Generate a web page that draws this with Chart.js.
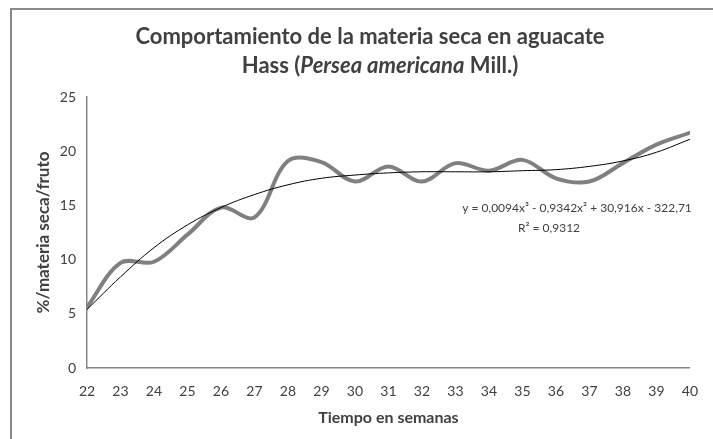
<!DOCTYPE html>
<html>
<head>
<meta charset="utf-8">
<script src="https://cdn.jsdelivr.net/npm/chart.js@4/dist/chart.umd.min.js"></script>
<style>
html,body{margin:0;padding:0;background:#fff;}
#wrap{width:713px;height:439px;position:relative;}
</style>
</head>
<body>
<div id="wrap"><canvas id="c" width="713" height="439"></canvas></div>
<script>
// ---- data ----
const weeks = [22, 23, 24, 25, 26, 27, 28, 29, 30, 31, 32, 33, 34, 35, 36, 37, 38, 39, 40];
const materiaSeca = [5.6, 9.7, 9.8, 12.3, 14.8, 13.9, 19.1, 19.0, 17.2, 18.6, 17.2, 18.9, 18.2, 19.2, 17.5, 17.2, 18.9, 20.6, 21.7];
const tendencia = [5.4, 8.4, 11.1, 13.2, 14.8, 16.0, 16.9, 17.5, 17.8, 18.0, 18.1, 18.1, 18.1, 18.2, 18.3, 18.6, 19.1, 19.9, 21.1];
const yTicks = [0, 5, 10, 15, 20, 25];
const titleLine1 = 'Comportamiento de la materia seca en aguacate';
const titleLine2 = ['Hass (', 'Persea americana', ' Mill.)'];
const xTitle = 'Tiempo en semanas';
const yTitle = '%/materia seca/fruto';
const equationText = 'y = 0,0094x³ - 0,9342x² + 30,916x - 322,71';
const r2Text = 'R² = 0,9312';

const TEXT = '#404040';
const FONT = 'Lato, Carlito, Calibri, sans-serif';

const decorPlugin = {
  id: 'decor',
  beforeDraw(chart) {
    const ctx = chart.ctx;
    ctx.save();
    ctx.strokeStyle = '#8a8a8a';
    ctx.lineWidth = 2;
    ctx.beginPath();
    ctx.moveTo(11, 439);
    ctx.lineTo(11, 9);
    ctx.lineTo(713, 9);
    ctx.stroke();
    ctx.restore();
  },
  afterDraw(chart) {
    const ctx = chart.ctx;
    ctx.save();
    ctx.fillStyle = TEXT;
    ctx.textBaseline = 'middle';
    // title line 1
    ctx.font = 'bold 22px ' + FONT;
    ctx.textAlign = 'center';
    ctx.fillText(titleLine1, 370, 37);
    // title line 2 with italic species name
    const fonts = ['bold 22px ' + FONT, 'italic bold 22px ' + FONT, 'bold 22px ' + FONT];
    let total = 0;
    const widths = titleLine2.map((t, i) => { ctx.font = fonts[i]; const w = ctx.measureText(t).width; total += w; return w; });
    let x = 380 - total / 2;
    ctx.textAlign = 'left';
    titleLine2.forEach((t, i) => { ctx.font = fonts[i]; ctx.fillText(t, x, 66); x += widths[i]; });
    // trendline equation
    ctx.font = '12px ' + FONT;
    ctx.textAlign = 'center';
    ctx.fillText(equationText, 577, 208);
    ctx.fillText(r2Text, 549, 228);
    ctx.restore();
  }
};

new Chart(document.getElementById('c'), {
  type: 'line',
  data: {
    datasets: [
      {
        label: 'Polinómica',
        data: weeks.map((w, i) => ({ x: w, y: tendencia[i] })),
        borderColor: '#000000',
        borderWidth: 1,
        pointRadius: 0,
        tension: 0.4,
        fill: false
      },
      {
        label: 'Materia seca',
        data: weeks.map((w, i) => ({ x: w, y: materiaSeca[i] })),
        borderColor: '#808080',
        borderWidth: 4,
        pointRadius: 0,
        tension: 0.35,
        borderCapStyle: 'round',
        borderJoinStyle: 'round',
        fill: false
      }
    ]
  },
  options: {
    responsive: false,
    animation: false,
    devicePixelRatio: 1,
    layout: { padding: { top: 97, right: 16, bottom: 0, left: 0 } },
    plugins: {
      legend: { display: false },
      title: { display: false },
      tooltip: { enabled: false }
    },
    scales: {
      x: {
        type: 'linear',
        min: weeks[0],
        max: weeks[weeks.length - 1],
        afterFit(s) { s.height = 71; },
        afterBuildTicks(s) { s.ticks = weeks.map(v => ({ value: v })); },
        ticks: { color: TEXT, font: { family: FONT, size: 14 }, padding: 15, maxRotation: 0, autoSkip: false },
        grid: { display: false, drawTicks: false },
        border: { display: true, color: '#868686', width: 1.5 },
        title: { display: true, text: xTitle, color: TEXT, font: { family: FONT, size: 16, weight: 'bold' }, padding: { top: 0, bottom: 12 } }
      },
      y: {
        min: yTicks[0],
        max: yTicks[yTicks.length - 1],
        afterFit(s) { s.width = 87; },
        afterBuildTicks(s) { s.ticks = yTicks.map(v => ({ value: v })); },
        ticks: { color: TEXT, font: { family: FONT, size: 14 }, padding: 11 },
        grid: { display: false, drawTicks: false },
        border: { display: true, color: '#868686', width: 1.5 },
        title: { display: true, text: yTitle, color: TEXT, font: { family: FONT, size: 17, weight: 'bold' }, padding: { top: 33, bottom: 0 } }
      }
    }
  },
  plugins: [decorPlugin]
});
</script>
</body>
</html>
